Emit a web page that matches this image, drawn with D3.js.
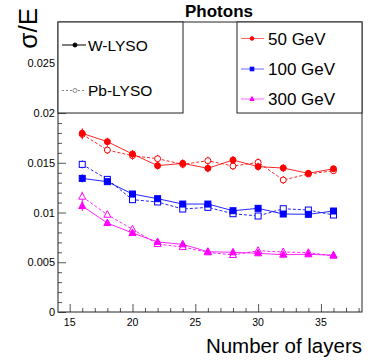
<!DOCTYPE html>
<html>
<head>
<meta charset="utf-8">
<script src="https://cdn.jsdelivr.net/npm/d3@7"></script>
<style>
  body { margin: 0; background: #fff; }
  svg { display: block; font-family: "Liberation Sans", Arial, sans-serif; }
</style>
</head>
<body>
<svg id="chart" width="381" height="363"></svg>
<script>
// layers
const layers = [16, 18, 20, 22, 24, 26, 28, 30, 32, 34, 36];

// W-LYSO (solid)
const w50  = [0.01796, 0.01712, 0.01588, 0.01471, 0.01494, 0.01444, 0.01528, 0.01461, 0.01447, 0.01394, 0.0144];
const w100 = [0.01343, 0.0131, 0.01186, 0.01139, 0.01085, 0.01085, 0.01018, 0.01042, 0.00985, 0.00982, 0.01015];
const w300 = [0.01065, 0.00894, 0.00794, 0.00704, 0.0068, 0.00606, 0.006, 0.0059, 0.00576, 0.0058, 0.0057];
// Pb-LYSO (dashed)
const pb50  = [0.01786, 0.01628, 0.01571, 0.01541, 0.01484, 0.01521, 0.01467, 0.01504, 0.01327, 0.01387, 0.0142];
const pb100 = [0.01484, 0.01333, 0.01129, 0.01106, 0.01035, 0.01052, 0.00988, 0.00965, 0.01038, 0.01025, 0.00975];
const pb300 = [0.01159, 0.00978, 0.00831, 0.00683, 0.00653, 0.006, 0.00573, 0.00616, 0.00603, 0.00596, 0.00566];

// errors (rough)
const err50  = [0.0005, 0.0004, 0.0004, 0.0004, 0.0004, 0.0004, 0.0004, 0.0004, 0.0004, 0.0003, 0.0003];
const err100 = [0.0004, 0.0003, 0.0003, 0.0003, 0.0003, 0.0003, 0.0003, 0.0003, 0.0003, 0.0003, 0.0003];
const err300 = [0.0005, 0.0003, 0.0003, 0.0002, 0.0002, 0.0002, 0.0002, 0.0002, 0.0002, 0.0002, 0.0002];

const energies = ["50 GeV", "100 GeV", "300 GeV"];
const colors = ["#ff0000", "#0000ff", "#ff00ff"];
const shapes = ["circle", "square", "triangle"];

const yTicks = [0, 0.005, 0.01, 0.015, 0.02, 0.025];
const xTicks = [15, 20, 25, 30, 35];

const svg = d3.select("#chart");
const fl = 58, fr = 362, ft = 22, fb = 312;

const x = d3.scaleLinear().domain([14.07, 38.27]).range([fl, fr]);
const y = d3.scaleLinear().domain([0, 0.02915]).range([fb, ft]);

// axes (ticks inward, root style)
const xAxis = d3.axisTop(x).tickValues(d3.range(15, 39, 1)).tickSize(4).tickFormat("");
const gx = svg.append("g").attr("transform", `translate(0,${fb})`).call(xAxis);
gx.selectAll(".tick line").filter(d => d % 5 === 0).attr("y2", -8);
gx.select(".domain").remove();
gx.selectAll(".tick line").attr("stroke", "#555");

const yAxis = d3.axisRight(y).tickValues(d3.range(0, 0.0291, 0.001)).tickSize(4).tickFormat("");
const gy = svg.append("g").attr("transform", `translate(${fl},0)`).call(yAxis);
gy.selectAll(".tick line").filter((d, i) => i % 5 === 0).attr("x2", 8);
gy.select(".domain").remove();
gy.selectAll(".tick line").attr("stroke", "#555");

svg.selectAll(".xl").data(xTicks).enter().append("text")
  .attr("x", d => x(d)).attr("y", fb + 14)
  .attr("text-anchor", "middle").attr("font-size", 10.5).text(d => d);

svg.selectAll(".yl").data(yTicks).enter().append("text")
  .attr("x", fl - 3).attr("y", d => y(d) + 4)
  .attr("text-anchor", "end").attr("font-size", 11).text(d => d === 0 ? "0" : d3.format("")(d));

svg.append("rect").attr("x", fl).attr("y", ft).attr("width", fr - fl).attr("height", fb - ft)
  .attr("fill", "none").attr("stroke", "#222").attr("stroke-width", 1);

// markers
function marker(g, shape, cx, cy, color, filled, k = 1) {
  const fill = filled ? color : "#fff";
  if (shape === "circle") {
    g.append("circle").attr("cx", cx).attr("cy", cy).attr("r", 3 * k)
      .attr("fill", fill).attr("stroke", color).attr("stroke-width", 1);
  } else if (shape === "square") {
    g.append("rect").attr("x", cx - 3 * k).attr("y", cy - 3 * k).attr("width", 6 * k).attr("height", 6 * k)
      .attr("fill", fill).attr("stroke", color).attr("stroke-width", 1);
  } else {
    g.append("path").attr("d", `M${cx},${cy - 4 * k}L${cx + 3.5 * k},${cy + 2.5 * k}L${cx - 3.5 * k},${cy + 2.5 * k}Z`)
      .attr("fill", fill).attr("stroke", color).attr("stroke-width", 1);
  }
}

const line = d3.line().x(d => x(d[0])).y(d => y(d[1]));

const series = [
  { vals: pb50, err: err50, c: 0, filled: false },
  { vals: pb100, err: err100, c: 1, filled: false },
  { vals: pb300, err: err300, c: 2, filled: false },
  { vals: w50, err: err50, c: 0, filled: true },
  { vals: w100, err: err100, c: 1, filled: true },
  { vals: w300, err: err300, c: 2, filled: true }
];

series.forEach(s => {
  const g = svg.append("g");
  const col = colors[s.c];
  const pts = layers.map((l, i) => [l, s.vals[i]]);
  g.append("path").attr("d", line(pts)).attr("fill", "none").attr("stroke", col)
    .attr("stroke-width", 1).attr("stroke-dasharray", s.filled ? null : "3,2")
    .attr("opacity", 0.85);
  layers.forEach((l, i) => {
    g.append("line").attr("x1", x(l)).attr("x2", x(l))
      .attr("y1", y(s.vals[i] - s.err[i])).attr("y2", y(s.vals[i] + s.err[i]))
      .attr("stroke", col).attr("stroke-width", 1);
    marker(g, shapes[s.c], x(l), y(s.vals[i]), col, s.filled);
  });
});

// title
svg.append("text").attr("x", 219).attr("y", 17).attr("text-anchor", "middle")
  .attr("font-size", 17).attr("font-weight", "bold").text("Photons");

// axis titles
svg.append("text").attr("transform", "translate(37,8) rotate(-90)")
  .attr("text-anchor", "end").attr("font-size", 26).text("σ/E");
svg.append("text").attr("x", fr).attr("y", 353).attr("text-anchor", "end")
  .attr("font-size", 20.5).text("Number of layers");

// legend: detectors
const lg1 = svg.append("g");
lg1.append("rect").attr("x", fl).attr("y", ft).attr("width", 125).attr("height", 91)
  .attr("fill", "#fff").attr("stroke", "#222");
const detectors = [
  { name: "W-LYSO", dash: null, filled: true, yy: 45 },
  { name: "Pb-LYSO", dash: "2,2", filled: false, yy: 90.5 }
];
detectors.forEach(d => {
  const col = d.filled ? "#000" : "#888";
  lg1.append("line").attr("x1", 62).attr("x2", 86).attr("y1", d.yy).attr("y2", d.yy)
    .attr("stroke", col).attr("stroke-dasharray", d.dash);
  lg1.append("circle").attr("cx", 75).attr("cy", d.yy).attr("r", 2)
    .attr("fill", d.filled ? "#000" : "#fff").attr("stroke", col);
  lg1.append("text").attr("x", 88).attr("y", d.yy + 5.5).attr("font-size", 15.5).text(d.name);
});

// legend: energies
const lg2 = svg.append("g");
lg2.append("rect").attr("x", 237).attr("y", ft).attr("width", fr - 237).attr("height", 91)
  .attr("fill", "#fff").attr("stroke", "#222");
const legY = [38.5, 69, 99];
energies.forEach((e, i) => {
  lg2.append("line").attr("x1", 241).attr("x2", 264).attr("y1", legY[i]).attr("y2", legY[i])
    .attr("stroke", colors[i]).attr("opacity", 0.6);
  marker(lg2, shapes[i], 252, legY[i], colors[i], true, 0.6);
  lg2.append("text").attr("x", 268).attr("y", legY[i] + 6).attr("font-size", 17).text(e);
});
</script>
</body>
</html>
